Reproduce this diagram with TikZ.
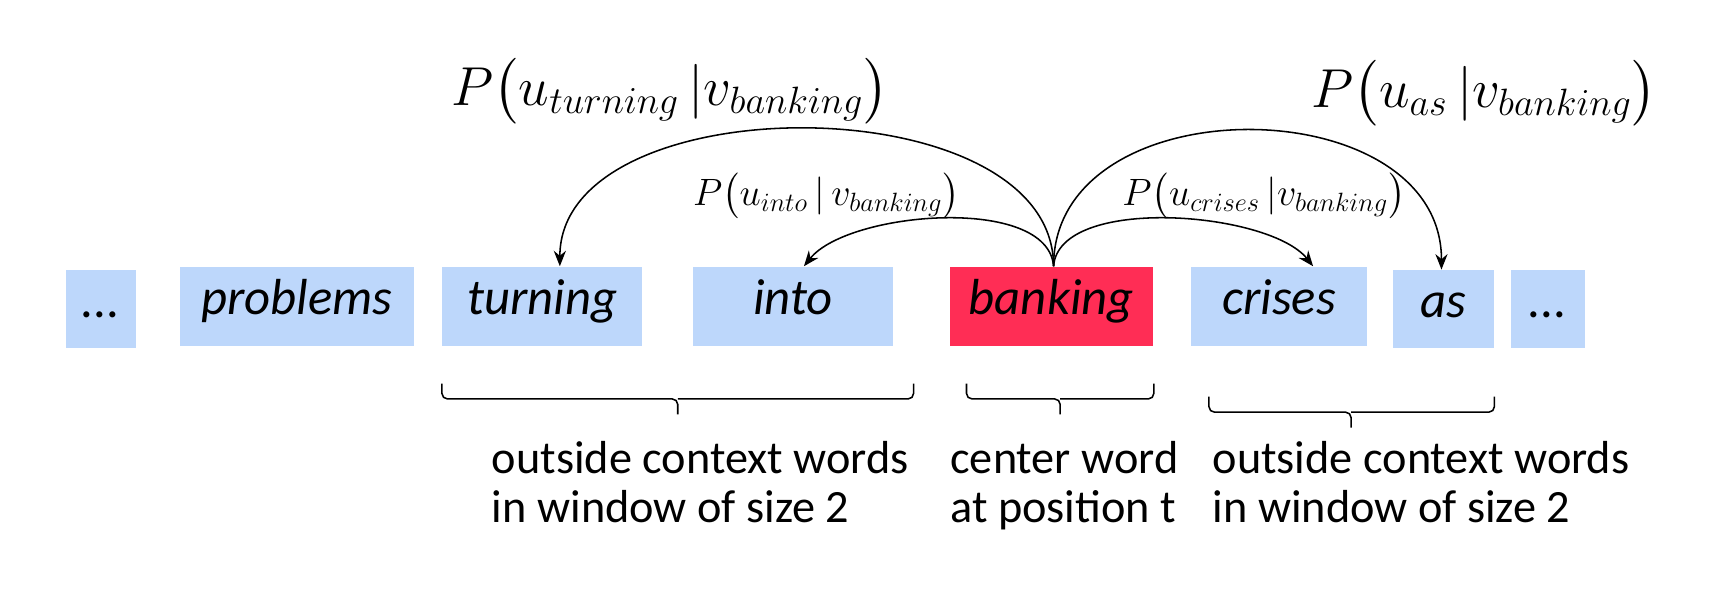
\documentclass[tikz,border=0pt]{standalone}
\usepackage{amsmath}
\usepackage[no-math]{fontspec}
\setmainfont{Carlito}
\usetikzlibrary{arrows.meta,calc}
\definecolor{boxblue}{RGB}{189,215,251}
\definecolor{boxred}{RGB}{255,45,85}
\begin{document}
\begin{tikzpicture}[x=0.5pt,y=-0.5pt,
  wbox/.style={fill=boxblue, inner sep=0pt, minimum height=36pt, text height=0.86em, text depth=0.12em,
    font=\fontsize{23}{27}\selectfont\itshape},
  cbox/.style={wbox, fill=boxred},
  arr/.style={-{Stealth[length=7pt,width=5.5pt]}, line width=0.7pt, black},
  bigmath/.style={font=\fontsize{24}{28}\selectfont, inner sep=0pt},
  smallmath/.style={font=\fontsize{18}{21}\selectfont, inner sep=0pt},
  brk/.style={line width=0.7pt, rounded corners=2.5pt},
  lbl/.style={font=\fontsize{21}{22.5}\selectfont, align=left, inner sep=0pt}
]
\useasboundingbox (0,0) rectangle (1568,550);

\node[wbox, minimum width=31.5pt, minimum height=35.5pt] (d1) at (91.5,280.5) {...};
\node[wbox, minimum width=106.5pt] (problems) at (269.5,278) {problems};
\node[wbox, minimum width=91pt] (turning) at (492,278) {turning};
\node[wbox, minimum width=90.5pt] (into) at (719.5,278) {into};
\node[cbox, minimum width=92pt] (banking) at (954,278) {banking};
\node[wbox, minimum width=79.5pt] (crises) at (1160.5,278) {crises};
\node[wbox, minimum width=46pt, minimum height=35.5pt] (as) at (1310,280.5) {as};
\node[wbox, minimum width=33.5pt, minimum height=35.5pt] (d2) at (1404.5,280.5) {...};

\coordinate (bt) at ($(banking.north)+(2,0)$);
\coordinate (tt) at ($(turning.north)+(16,0)$);
\coordinate (it) at ($(into.north)+(10,0)$);
\coordinate (ct) at ($(crises.north)+(31,0)$);
\coordinate (at) at ($(as.north)+(-2,0)$);

\node[bigmath] (l1) at (608,83) {$P\bigl(u_{turning}\,|v_{banking}\bigr)$};
\node[smallmath] (l2) at (750,178) {$P\bigl(u_{into}\,|\,v_{banking}\bigr)$};
\node[smallmath] (l3) at (1147,178) {$P\bigl(u_{crises}\,|v_{banking}\bigr)$};
\node[bigmath] (l4) at (1347,85) {$P\bigl(u_{as}\,|v_{banking}\bigr)$};

\draw[arr] (bt) .. controls +(0,-166) and +(0,-166) .. (tt);
\draw[arr] (bt) .. controls +(-5,-65) and +(40,-50) .. (it);
\draw[arr] (bt) .. controls +(5,-65) and +(-40,-50) .. (ct);
\draw[arr] (bt) .. controls +(0,-166) and +(0,-166) .. (at);

\draw[brk] (401,348) -- (401,362) -- (615,362) -- (615,376);
\draw[brk] (829,348) -- (829,362) -- (615,362);
\draw[brk] (877,348) -- (877,362) -- (962,362) -- (962,376);
\draw[brk] (1047,348) -- (1047,362) -- (962,362);
\draw[brk] (1097,360) -- (1097,374) -- (1226,374) -- (1226,388);
\draw[brk] (1356,360) -- (1356,374) -- (1226,374);

\node[lbl, anchor=north west] (t1) at (446,400) {outside context words\\in window of size 2};
\node[lbl, anchor=north west] (t2) at (862,400) {center word\\at position t};
\node[lbl, anchor=north west] (t3) at (1100,400) {outside context words\\in window of size 2};
\end{tikzpicture}
\end{document}
